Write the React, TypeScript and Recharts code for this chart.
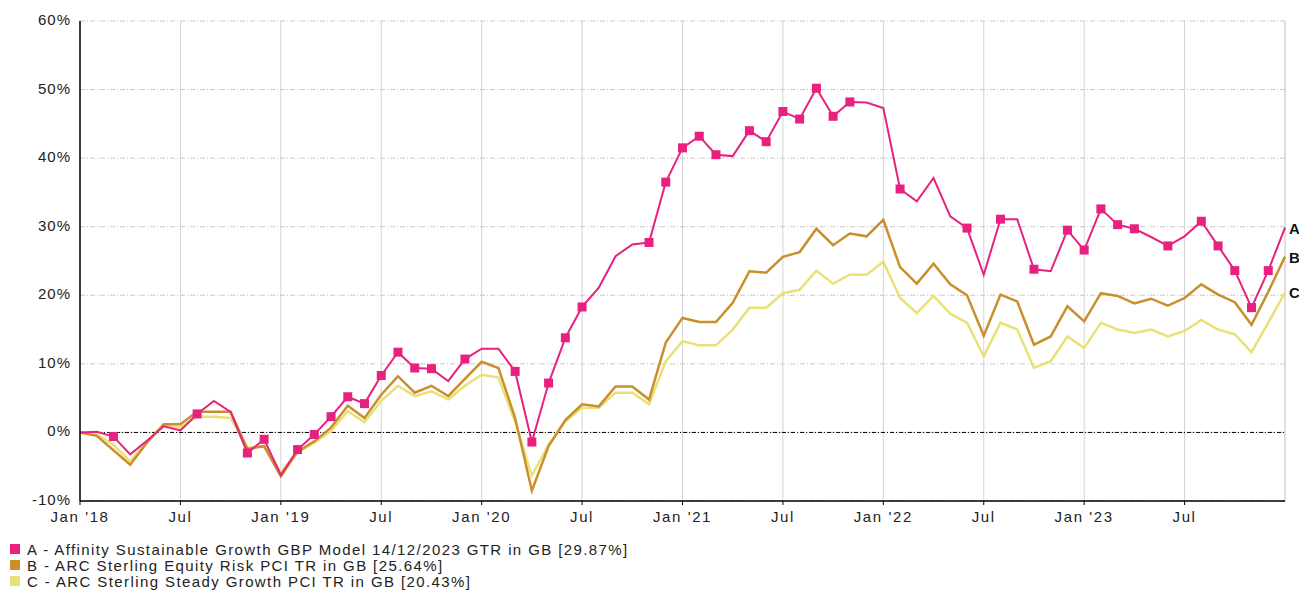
import React from "react";
import {
  LineChart,
  Line,
  XAxis,
  YAxis,
  CartesianGrid,
  ReferenceLine,
} from "recharts";

// monthly points, Jan '18 .. Dec '23 (73 points)
const seriesA = [
  0, 0.1, -0.6, -3.2, -1.2, 0.9, 0.3, 2.7, 4.6, 3.0, -3.0, -1.0, -6.2,
  -2.5, -0.3, 2.3, 5.2, 4.2, 8.3, 11.7, 9.4, 9.3, 7.5, 10.7, 12.2,
  12.2, 8.9, -1.4, 7.2, 13.8, 18.3, 21.1, 25.7, 27.4, 27.7, 36.5, 41.5,
  43.2, 40.5, 40.3, 44.0, 42.4, 46.8, 45.7, 50.2, 46.1, 48.2, 48.1, 47.3,
  35.5, 33.7, 37.1, 31.5, 29.8, 23.0, 31.1, 31.1, 23.8, 23.5, 29.5, 26.6,
  32.6, 30.3, 29.7, 28.5, 27.2, 28.6, 30.8, 27.2, 23.6, 18.2, 23.6, 29.87,
];
const seriesB = [
  0, -0.5, -2.6, -4.7, -1.5, 1.2, 1.2, 3.0, 3.0, 3.0, -2.4, -2.0, -6.4,
  -2.8, -1.3, 0.7, 3.9, 2.1, 5.5, 8.2, 5.8, 6.8, 5.3, 7.8, 10.3,
  9.4, 2.1, -8.5, -2.0, 1.8, 4.1, 3.8, 6.7, 6.7, 4.8, 13.1, 16.7,
  16.1, 16.1, 18.9, 23.5, 23.3, 25.6, 26.3, 29.7, 27.3, 29.0, 28.6, 31.0,
  24.1, 21.7, 24.6, 21.6, 20.0, 14.1, 20.1, 19.1, 12.8, 14.0, 18.4, 16.2,
  20.3, 19.9, 18.8, 19.5, 18.5, 19.6, 21.6, 20.1, 19.0, 15.7, 20.5, 25.64,
];
const seriesC = [
  0, -0.3, -1.8, -4.2, -1.3, 1.0, 0.7, 2.3, 2.3, 2.1, -2.2, -2.0, -5.8,
  -2.9, -1.5, 0.2, 3.1, 1.5, 4.6, 6.8, 5.3, 6.0, 4.8, 6.8, 8.4,
  8.0, 1.5, -6.3, -1.8, 1.6, 3.6, 3.6, 5.8, 5.8, 4.1, 10.4, 13.3,
  12.7, 12.7, 15.0, 18.2, 18.2, 20.3, 20.8, 23.6, 21.7, 23.0, 23.0, 24.9,
  19.6, 17.4, 19.9, 17.3, 16.0, 11.1, 16.0, 15.0, 9.4, 10.4, 14.0, 12.3,
  16.0, 15.0, 14.5, 15.0, 14.0, 14.8, 16.4, 15.0, 14.3, 11.7, 16.0, 20.43,
];

// points of A drawn with a square marker
const markedA = [
  2, 7, 10, 11, 13, 14, 15, 16, 17, 18, 19, 20, 21, 23, 26, 27, 28, 29, 30,
  34, 35, 36, 37, 38, 40, 41, 42, 43, 44, 45, 46, 49, 53, 55, 57, 59, 60,
  61, 62, 63, 65, 67, 68, 69, 70, 71,
];

const tickPos = [0, 6, 12, 18, 24, 30, 36, 42, 48, 54, 60, 66];
const tickLabels = [
  "Jan '18", "Jul", "Jan '19", "Jul", "Jan '20", "Jul",
  "Jan '21", "Jul", "Jan '22", "Jul", "Jan '23", "Jul",
];
const yTicks = [-10, 0, 10, 20, 30, 40, 50, 60];

const legendItems = [
  "A - Affinity Sustainable Growth GBP Model 14/12/2023 GTR in GB [29.87%]",
  "B - ARC Sterling Equity Risk PCI TR in GB [25.64%]",
  "C - ARC Sterling Steady Growth PCI TR in GB [20.43%]",
];
const endTags = ["A", "B", "C"];

const COLORS = ["#E8207F", "#C98F2C", "#E9E176"];
const FONT = "'Liberation Sans', Arial, sans-serif";

const data = seriesA.map((a, i) => ({ t: i, a, b: seriesB[i], c: seriesC[i] }));
const marked = new Set(markedA);
const last = seriesA.length - 1;

function endLabel(tag: string) {
  return (props: any) => {
    if (props.index !== last) return null;
    return (
      <text
        x={props.x + 4}
        y={props.y + 6}
        fontFamily={FONT}
        fontSize={15}
        fontWeight="bold"
        fill="#111"
      >
        {tag}
      </text>
    );
  };
}

function XTick(props: any) {
  const idx = tickPos.indexOf(props.payload.value);
  return (
    <text
      x={props.x}
      y={522}
      textAnchor="middle"
      fontFamily={FONT}
      fontSize={15}
      letterSpacing={1.6}
      fill="#222"
    >
      {tickLabels[idx]}
    </text>
  );
}

function YTick(props: any) {
  return (
    <text
      x={71}
      y={props.y + 4}
      textAnchor="end"
      fontFamily={FONT}
      fontSize={15}
      letterSpacing={1}
      fill="#222"
    >
      {props.payload.value}%
    </text>
  );
}

export default function App() {
  return (
    <div style={{ position: "absolute", left: 0, top: 0, width: 1299, height: 592, background: "#fff" }}>
      <LineChart
        width={1299}
        height={530}
        data={data}
        margin={{ top: 21, right: 14, left: 0, bottom: 4 }}
      >
        <CartesianGrid horizontal={false} stroke="#d4d4d4" />
        <CartesianGrid vertical={false} stroke="#c8c8c8" strokeDasharray="5 2 1 2" />
        <XAxis
          dataKey="t"
          type="number"
          domain={[0, 72]}
          ticks={tickPos}
          interval={0}
          height={25}
          tick={<XTick />}
          tickSize={4}
          tickLine={{ stroke: "#000" }}
          axisLine={{ stroke: "#000", strokeWidth: 1.5 }}
        />
        <YAxis
          type="number"
          domain={[-10, 60]}
          ticks={yTicks}
          interval={0}
          width={80}
          tick={<YTick />}
          tickLine={false}
          axisLine={{ stroke: "#000", strokeWidth: 1.5 }}
        />
        <ReferenceLine x={72} stroke="#d4d4d4" />
        <ReferenceLine y={0} stroke="#000" strokeDasharray="4 2 1 2" />
        <Line
          type="linear"
          dataKey="c"
          stroke={COLORS[2]}
          strokeWidth={2.5}
          dot={false}
          isAnimationActive={false}
          label={endLabel(endTags[2])}
        />
        <Line
          type="linear"
          dataKey="b"
          stroke={COLORS[1]}
          strokeWidth={2.5}
          dot={false}
          isAnimationActive={false}
          label={endLabel(endTags[1])}
        />
        <Line
          type="linear"
          dataKey="a"
          stroke={COLORS[0]}
          strokeWidth={2}
          isAnimationActive={false}
          label={endLabel(endTags[0])}
          dot={(p: any) =>
            marked.has(p.index) ? (
              <rect key={"m" + p.index} x={p.cx - 4.5} y={p.cy - 4.5} width={9} height={9} fill={COLORS[0]} />
            ) : (
              <g key={"m" + p.index} />
            )
          }
        />
      </LineChart>
      <div
        style={{
          position: "absolute",
          left: 10,
          top: 541,
          fontFamily: FONT,
          fontSize: 15,
          letterSpacing: 1.4,
          color: "#222",
        }}
      >
        {legendItems.map((txt, i) => (
          <div key={txt} style={{ display: "flex", alignItems: "center", height: 16, whiteSpace: "nowrap" }}>
            <span style={{ width: 10, height: 10, background: COLORS[i], marginRight: 7, display: "inline-block" }} />
            <span>{txt}</span>
          </div>
        ))}
      </div>
    </div>
  );
}
